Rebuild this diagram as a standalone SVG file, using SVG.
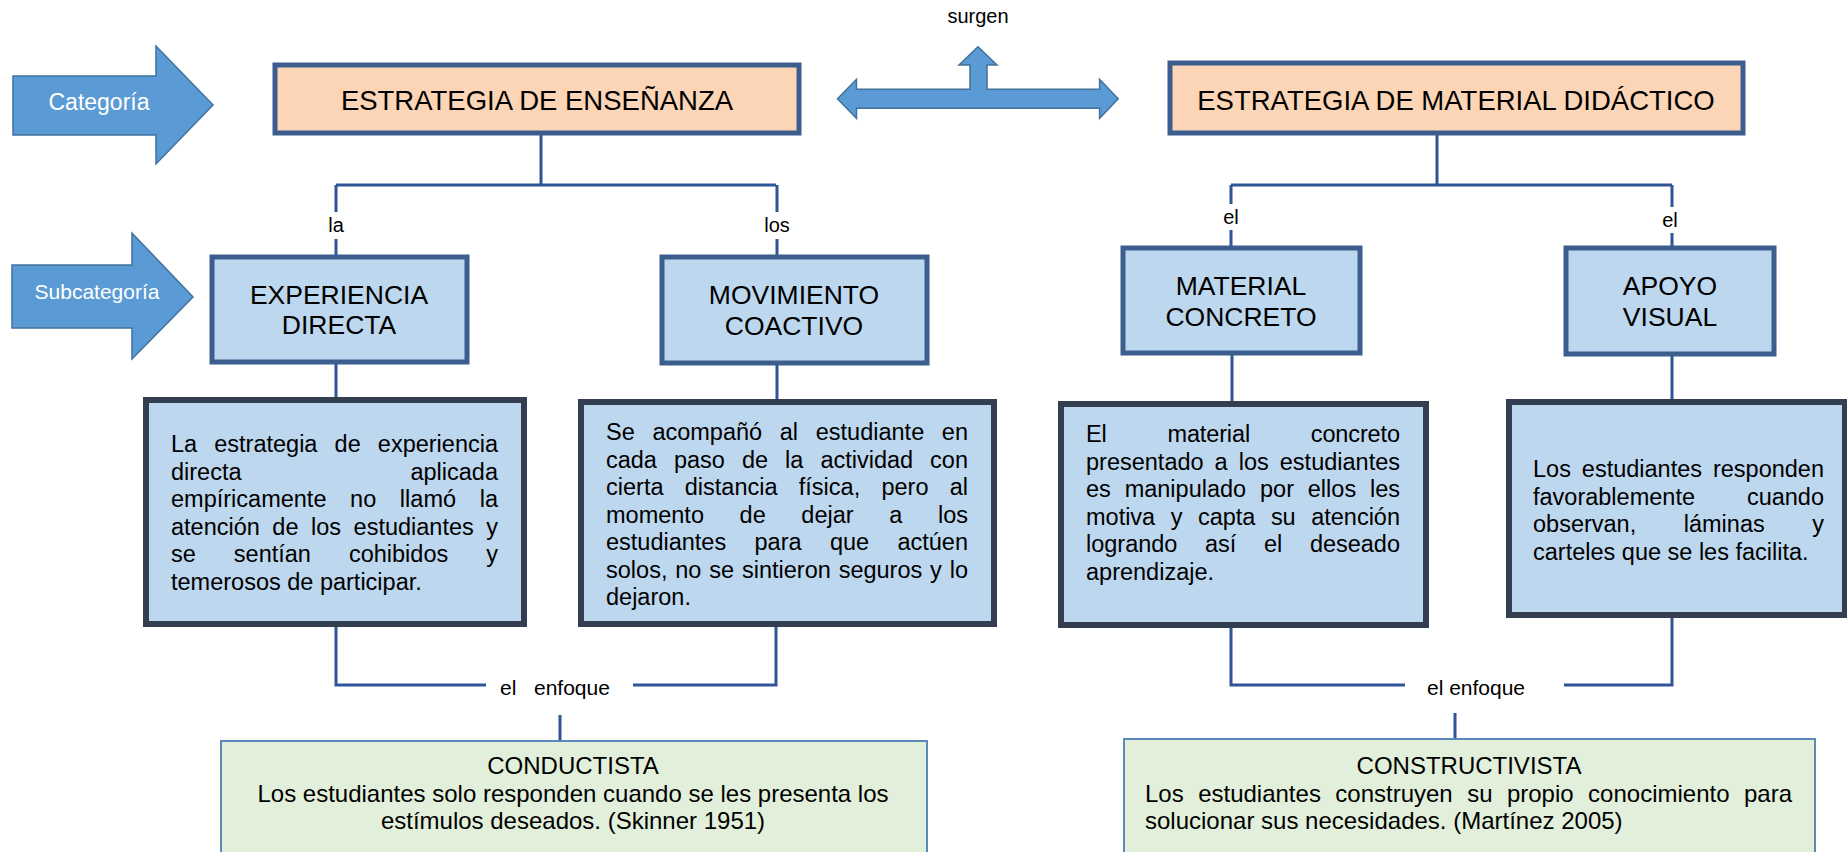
<svg xmlns="http://www.w3.org/2000/svg" width="1847" height="852" viewBox="0 0 1847 852">
<style>
text{font-family:"Liberation Sans",Arial,sans-serif;fill:#000}
.desc{font-size:23.5px}
.head{font-size:26.5px;text-anchor:middle}
.top{font-size:27.5px;text-anchor:middle}
.lbl{font-size:20px;text-anchor:middle}
.enf{font-size:21px;text-anchor:middle}
.grn{font-size:24px}
.mid{text-anchor:middle}
.conn{fill:none;stroke:#2F5597;stroke-width:3}
.blk{fill:#5B9BD5;stroke:#41719C;stroke-width:1.5}
.wtxt{fill:#fff;text-anchor:middle}
.cat{fill:#FBD5B5;stroke:#3B5E8E;stroke-width:5}
.sub{fill:#BDD7EE;stroke:#3B5E8E;stroke-width:5}
.box{fill:#BDD7EE;stroke:#333F50;stroke-width:6}
.gbox{fill:#E2EFDA;stroke:#5B87B9;stroke-width:2}
</style>
<rect width="1847" height="852" fill="#fff"/>

<g id="connectors">
  <path class="conn" d="M541 133V185M336 185H776M336 185V212M336 239V257M777 185V212M777 239V257"/>
  <path class="conn" d="M1437 133V185M1231 185H1672M1231 185V204M1231 230V248M1672 185V207M1672 233V248"/>
  <path class="conn" d="M336 362V400M777 363V402M1232 353V404M1672 354V402"/>
  <path class="conn" d="M336 624V685H486M633 685H776V624M560 715V741"/>
  <path class="conn" d="M1231 625V685H1405M1564 685H1672V615M1455 713V739"/>
  <text class="lbl" x="336" y="232">la</text>
  <text class="lbl" x="777" y="232">los</text>
  <text class="lbl" x="1231" y="224">el</text>
  <text class="lbl" x="1670" y="227">el</text>
  <text class="enf" x="555" y="695" xml:space="preserve">el   enfoque</text>
  <text class="enf" x="1476" y="695">el enfoque</text>
</g>

<g id="arrow-categoria">
  <polygon class="blk" points="13,76 156,76 156,46 213,105 156,164 156,135 13,135"/>
  <text class="wtxt" x="99" y="110" font-size="23">Categoría</text>
</g>
<g id="arrow-subcategoria">
  <polygon class="blk" points="12,265 132,265 132,233 193,297 132,359 132,328 12,328"/>
  <text class="wtxt" x="97" y="299" font-size="21">Subcategoría</text>
</g>
<g id="arrow-surgen">
  <polygon class="blk" points="837.5,98.7 856.5,79.3 856.5,89.3 970,89.3 970,65 959,65 978,46.7 997,65 987,65 987,89.3 1099.6,89.3 1099.6,79.3 1118.2,98.7 1099.6,118.3 1099.6,108.3 856.5,108.3 856.5,118.3"/>
  <text class="mid" x="978" y="23" font-size="20">surgen</text>
</g>

<g id="cat-ensenanza">
  <rect class="cat" x="275" y="65" width="524" height="68"/>
  <text class="top" x="537" y="110">ESTRATEGIA DE ENSEÑANZA</text>
</g>
<g id="cat-material">
  <rect class="cat" x="1170" y="63" width="573" height="70"/>
  <text class="top" x="1456" y="110">ESTRATEGIA DE MATERIAL DIDÁCTICO</text>
</g>

<g id="sub-experiencia">
  <rect class="sub" x="212" y="257" width="255" height="105"/>
  <text class="head" x="339" y="304">EXPERIENCIA</text>
  <text class="head" x="339" y="334">DIRECTA</text>
</g>
<g id="sub-movimiento">
  <rect class="sub" x="662" y="257" width="265" height="106"/>
  <text class="head" x="794" y="304">MOVIMIENTO</text>
  <text class="head" x="794" y="335">COACTIVO</text>
</g>
<g id="sub-material">
  <rect class="sub" x="1123" y="248" width="237" height="105"/>
  <text class="head" x="1241" y="295">MATERIAL</text>
  <text class="head" x="1241" y="326">CONCRETO</text>
</g>
<g id="sub-apoyo">
  <rect class="sub" x="1566" y="248" width="208" height="106"/>
  <text class="head" x="1670" y="295">APOYO</text>
  <text class="head" x="1670" y="326">VISUAL</text>
</g>

<g id="desc-experiencia">
  <rect class="box" x="146" y="400" width="378" height="224"/>
  <text class="desc" x="171" y="452" word-spacing="10.6" textLength="327" lengthAdjust="spacing">La estrategia de experiencia</text>
  <text class="desc" x="171" y="479.5">directa</text>
  <text class="desc" x="498" y="479.5" text-anchor="end">aplicada</text>
  <text class="desc" x="171" y="507" word-spacing="17.1" textLength="327" lengthAdjust="spacing">empíricamente no llamó la</text>
  <text class="desc" x="171" y="534.5" word-spacing="6" textLength="327" lengthAdjust="spacing">atención de los estudiantes y</text>
  <text class="desc" x="171" y="562" word-spacing="31.5" textLength="327" lengthAdjust="spacing">se sentían cohibidos y</text>
  <text class="desc" x="171" y="589.5">temerosos de participar.</text>
</g>
<g id="desc-movimiento">
  <rect class="box" x="581" y="402" width="413" height="222"/>
  <text class="desc" x="606" y="440" word-spacing="11.1" textLength="362" lengthAdjust="spacing">Se acompañó al estudiante en</text>
  <text class="desc" x="606" y="467.5" word-spacing="10.5" textLength="362" lengthAdjust="spacing">cada paso de la actividad con</text>
  <text class="desc" x="606" y="495" word-spacing="14.7" textLength="362" lengthAdjust="spacing">cierta distancia física, pero al</text>
  <text class="desc" x="606" y="522.5" word-spacing="29.1" textLength="362" lengthAdjust="spacing">momento de dejar a los</text>
  <text class="desc" x="606" y="550" word-spacing="21.8" textLength="362" lengthAdjust="spacing">estudiantes para que actúen</text>
  <text class="desc" x="606" y="577.5" word-spacing="1.3" textLength="362" lengthAdjust="spacing">solos, no se sintieron seguros y lo</text>
  <text class="desc" x="606" y="605">dejaron.</text>
</g>
<g id="desc-material">
  <rect class="box" x="1061" y="404" width="365" height="221"/>
  <text class="desc" x="1086" y="442" word-spacing="54.4" textLength="314" lengthAdjust="spacing">El material concreto</text>
  <text class="desc" x="1086" y="469.5" word-spacing="4.5" textLength="314" lengthAdjust="spacing">presentado a los estudiantes</text>
  <text class="desc" x="1086" y="497" word-spacing="7.3" textLength="314" lengthAdjust="spacing">es manipulado por ellos les</text>
  <text class="desc" x="1086" y="524.5" word-spacing="9" textLength="314" lengthAdjust="spacing">motiva y capta su atención</text>
  <text class="desc" x="1086" y="552" word-spacing="21.1" textLength="314" lengthAdjust="spacing">logrando así el deseado</text>
  <text class="desc" x="1086" y="579.5">aprendizaje.</text>
</g>
<g id="desc-apoyo">
  <rect class="box" x="1509" y="402" width="336" height="213"/>
  <text class="desc" x="1533" y="477" word-spacing="4.4" textLength="291" lengthAdjust="spacing">Los estudiantes responden</text>
  <text class="desc" x="1533" y="504.5" word-spacing="45.4" textLength="291" lengthAdjust="spacing">favorablemente cuando</text>
  <text class="desc" x="1533" y="532" word-spacing="41" textLength="291" lengthAdjust="spacing">observan, láminas y</text>
  <text class="desc" x="1533" y="559.5">carteles que se les facilita.</text>
</g>

<g id="enfoque-conductista">
  <rect class="gbox" x="221" y="741" width="706" height="130"/>
  <text class="grn mid" x="573" y="774">CONDUCTISTA</text>
  <text class="grn mid" x="573" y="802">Los estudiantes solo responden cuando se les presenta los</text>
  <text class="grn mid" x="573" y="829">estímulos deseados. (Skinner 1951)</text>
</g>
<g id="enfoque-constructivista">
  <rect class="gbox" x="1124" y="739" width="691" height="130"/>
  <text class="grn mid" x="1469" y="774">CONSTRUCTIVISTA</text>
  <text class="grn" x="1145" y="802" word-spacing="7.8" textLength="647" lengthAdjust="spacing">Los estudiantes construyen su propio conocimiento para</text>
  <text class="grn" x="1145" y="829">solucionar sus necesidades. (Martínez 2005)</text>
</g>
</svg>
